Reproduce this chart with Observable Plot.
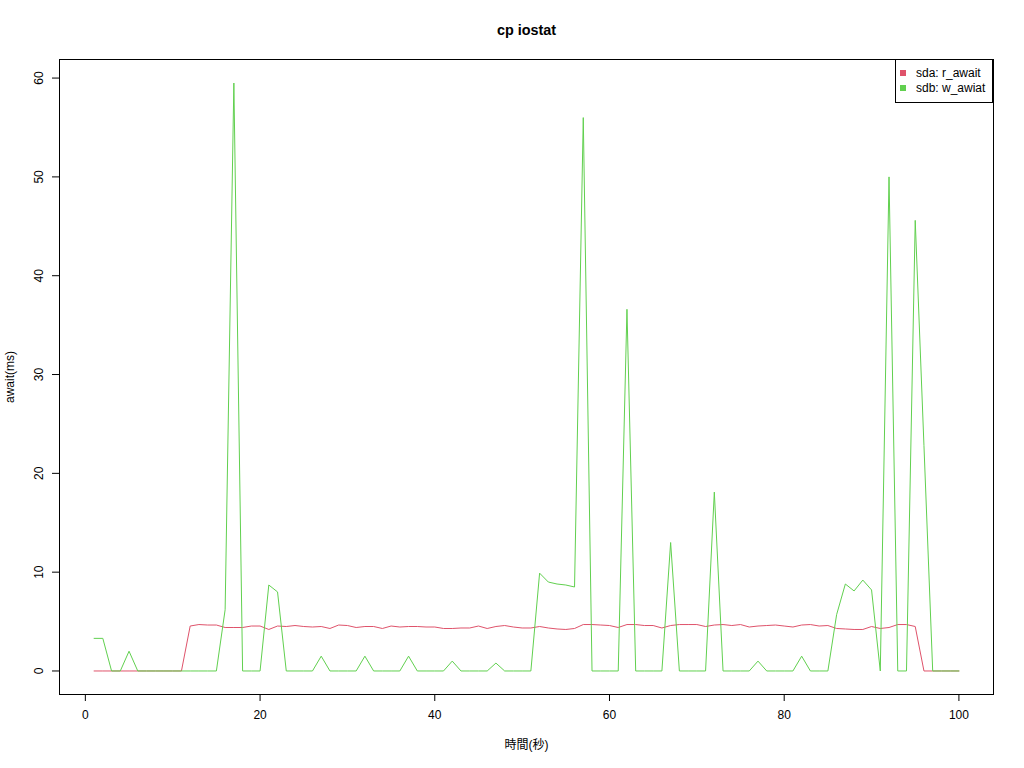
<!DOCTYPE html>
<html>
<head>
<meta charset="utf-8">
<script src="https://cdn.jsdelivr.net/npm/d3@7"></script>
<script src="https://cdn.jsdelivr.net/npm/@observablehq/plot@0.6"></script>
<style>
  html, body { margin: 0; padding: 0; background: #fff; }
  #chart { width: 1024px; height: 768px; }
</style>
</head>
<body>
<div id="chart"></div>
<script>
const titleText = "cp iostat";
const xLabel = "時間(秒)";
const yLabel = "await(ms)";
const seriesNames = ["sda: r_await", "sdb: w_awiat"];
const seriesColors = ["#DF536B", "#61D04F"];
const xTicks = [0, 20, 40, 60, 80, 100];
const yTicks = [0, 10, 20, 30, 40, 50, 60];

const seconds = d3.range(1, 101);

const sdaRAwait = [
  0, 0, 0, 0, 0, 0, 0, 0, 0, 0,
  0, 4.55, 4.7, 4.65, 4.65, 4.4, 4.4, 4.4, 4.55, 4.55,
  4.2, 4.55, 4.5, 4.6, 4.5, 4.45, 4.5, 4.3, 4.65, 4.6,
  4.4, 4.5, 4.5, 4.3, 4.55, 4.45, 4.5, 4.5, 4.45, 4.45,
  4.3, 4.3, 4.35, 4.35, 4.55, 4.3, 4.5, 4.6, 4.45, 4.35,
  4.35, 4.5, 4.35, 4.25, 4.2, 4.3, 4.7, 4.7, 4.65, 4.6,
  4.4, 4.7, 4.7, 4.6, 4.6, 4.35, 4.6, 4.7, 4.7, 4.7,
  4.5, 4.65, 4.7, 4.6, 4.7, 4.45, 4.55, 4.6, 4.65, 4.55,
  4.45, 4.65, 4.7, 4.55, 4.6, 4.3, 4.25, 4.2, 4.2, 4.5,
  4.3, 4.4, 4.7, 4.7, 4.5, 0, 0, 0, 0, 0
];

const sdbWAwiat = [
  3.3, 3.3, 0, 0, 2.0, 0, 0, 0, 0, 0,
  0, 0, 0, 0, 0, 6.2, 59.5, 0, 0, 0,
  8.7, 8.0, 0, 0, 0, 0, 1.5, 0, 0, 0,
  0, 1.5, 0, 0, 0, 0, 1.5, 0, 0, 0,
  0, 1.0, 0, 0, 0, 0, 0.8, 0, 0, 0,
  0, 9.9, 9.0, 8.8, 8.7, 8.5, 56.0, 0, 0, 0,
  0, 36.6, 0, 0, 0, 0, 13.0, 0, 0, 0,
  0, 18.1, 0, 0, 0, 0, 1.0, 0, 0, 0,
  0, 1.5, 0, 0, 0, 5.7, 8.8, 8.1, 9.2, 8.2,
  0, 50.0, 0, 0, 45.6, 22.8, 0, 0, 0, 0
];

const sdaData = seconds.map((t, i) => ({t, v: sdaRAwait[i]}));
const sdbData = seconds.map((t, i) => ({t, v: sdbWAwiat[i]}));

// R-style 4% axis extension
const xMin = d3.min(seconds), xMax = d3.max(seconds);
const yMin = Math.min(d3.min(sdaRAwait), d3.min(sdbWAwiat));
const yMax = Math.max(d3.max(sdaRAwait), d3.max(sdbWAwiat));
const xPad = (xMax - xMin) * 0.04, yPad = (yMax - yMin) * 0.04;

const font = "'Liberation Sans', Arial, Helvetica, 'Noto Sans CJK JP', sans-serif";

const plot = Plot.plot({
  width: 1024,
  height: 768,
  marginLeft: 59,
  marginRight: 31,
  marginTop: 59,
  marginBottom: 74,
  style: {fontFamily: font, fontSize: "12px", color: "black", background: "white", overflow: "visible"},
  x: {domain: [xMin - xPad, xMax + xPad]},
  y: {domain: [yMin - yPad, yMax + yPad]},
  marks: [
    Plot.line(sdaData, {x: "t", y: "v", stroke: seriesColors[0], strokeWidth: 1}),
    Plot.line(sdbData, {x: "t", y: "v", stroke: seriesColors[1], strokeWidth: 1}),
    Plot.frame({stroke: "black", strokeWidth: 1}),
    Plot.axisX({ticks: xTicks, tickSize: 7, tickPadding: 9, label: null, stroke: "black", fontSize: 12}),
    Plot.axisY({ticks: yTicks, tickSize: 7, tickPadding: 10, tickRotate: -90, label: null, stroke: "black", fontSize: 12}),
    Plot.text([titleText], {frameAnchor: "top", dy: -29, text: d => d, fontWeight: "bold", fontSize: 14.4, lineAnchor: "middle"}),
    Plot.text([xLabel], {frameAnchor: "bottom", dy: 51, text: d => d, fontSize: 12, lineAnchor: "middle"}),
    Plot.text([yLabel], {frameAnchor: "left", dx: -49, text: d => d, rotate: -90, textAnchor: "middle", lineAnchor: "middle", fontSize: 12})
  ]
});

document.getElementById("chart").appendChild(plot);

// Legend (R-style topright box)
(function drawLegend() {
  const svg = d3.select(plot);
  const xr = plot.scale("x").range, yr = plot.scale("y").range;
  const boxRight = Math.max(...xr), boxTop = Math.min(...yr);
  const boxW = 98, boxH = 43;
  const g = svg.append("g").attr("font-family", font).attr("font-size", 12).attr("text-anchor", "start");
  g.append("rect")
    .attr("x", boxRight - boxW + 0.5).attr("y", boxTop + 0.5)
    .attr("width", boxW - 1).attr("height", boxH)
    .attr("fill", "white").attr("stroke", "black");
  seriesNames.forEach((name, i) => {
    const cy = boxTop + 14 + i * 15;
    g.append("rect")
      .attr("x", boxRight - boxW + 5).attr("y", cy - 3)
      .attr("width", 6).attr("height", 6)
      .attr("fill", seriesColors[i]);
    g.append("text")
      .attr("x", boxRight - boxW + 21).attr("y", cy)
      .attr("dy", "0.35em")
      .attr("text-anchor", "start")
      .attr("fill", "black")
      .text(name);
  });
})();
</script>
</body>
</html>
